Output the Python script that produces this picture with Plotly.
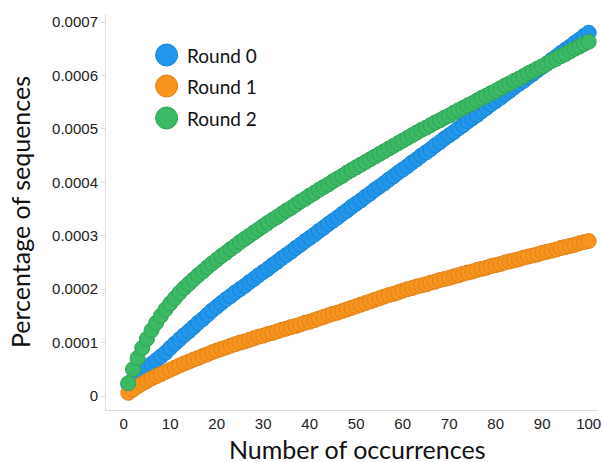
import plotly.graph_objects as go

# Number of occurrences (1..100)
occurrences = list(range(1, 101))

# Percentage of sequences per round
round0 = [
    0.000022, 0.000030, 0.000038, 0.000046, 0.000053, 0.000060, 0.000067, 0.000074, 0.000081, 0.000090,
    0.000098, 0.000106, 0.000114, 0.000121, 0.000129, 0.000137, 0.000144, 0.000152, 0.000160, 0.000167,
    0.000174, 0.000181, 0.000187, 0.000194, 0.000200, 0.000206, 0.000213, 0.000219, 0.000226, 0.000232,
    0.000238, 0.000245, 0.000251, 0.000258, 0.000264, 0.000270, 0.000277, 0.000283, 0.000290, 0.000296,
    0.000302, 0.000309, 0.000315, 0.000322, 0.000328, 0.000334, 0.000341, 0.000347, 0.000354, 0.000360,
    0.000366, 0.000373, 0.000379, 0.000386, 0.000392, 0.000398, 0.000405, 0.000411, 0.000418, 0.000424,
    0.000430, 0.000437, 0.000443, 0.000450, 0.000456, 0.000462, 0.000469, 0.000475, 0.000482, 0.000488,
    0.000494, 0.000501, 0.000507, 0.000514, 0.000520, 0.000526, 0.000533, 0.000539, 0.000546, 0.000552,
    0.000558, 0.000565, 0.000571, 0.000578, 0.000584, 0.000590, 0.000597, 0.000603, 0.000610, 0.000616,
    0.000622, 0.000629, 0.000635, 0.000642, 0.000648, 0.000654, 0.000661, 0.000667, 0.000674, 0.000680,
]

round1 = [
    0.000006, 0.000012, 0.000018, 0.000023, 0.000028, 0.000033, 0.000037, 0.000041, 0.000045, 0.000049,
    0.000053, 0.000057, 0.000061, 0.000064, 0.000068, 0.000071, 0.000075, 0.000078, 0.000082, 0.000085,
    0.000088, 0.000091, 0.000094, 0.000097, 0.000100, 0.000102, 0.000105, 0.000108, 0.000111, 0.000113,
    0.000116, 0.000118, 0.000121, 0.000124, 0.000126, 0.000129, 0.000131, 0.000134, 0.000137, 0.000139,
    0.000142, 0.000145, 0.000148, 0.000151, 0.000154, 0.000156, 0.000159, 0.000162, 0.000165, 0.000168,
    0.000171, 0.000174, 0.000177, 0.000180, 0.000183, 0.000186, 0.000189, 0.000191, 0.000194, 0.000197,
    0.000200, 0.000202, 0.000205, 0.000207, 0.000209, 0.000212, 0.000214, 0.000217, 0.000219, 0.000221,
    0.000224, 0.000226, 0.000229, 0.000231, 0.000233, 0.000236, 0.000238, 0.000240, 0.000243, 0.000245,
    0.000247, 0.000250, 0.000252, 0.000254, 0.000256, 0.000259, 0.000261, 0.000263, 0.000265, 0.000268,
    0.000270, 0.000272, 0.000274, 0.000277, 0.000279, 0.000281, 0.000283, 0.000286, 0.000288, 0.000290,
]

round2 = [
    0.000024, 0.000050, 0.000071, 0.000090, 0.000107, 0.000123, 0.000137, 0.000150, 0.000162, 0.000173,
    0.000183, 0.000193, 0.000202, 0.000210, 0.000218, 0.000226, 0.000233, 0.000241, 0.000248, 0.000255,
    0.000262, 0.000268, 0.000275, 0.000281, 0.000288, 0.000294, 0.000300, 0.000306, 0.000312, 0.000318,
    0.000324, 0.000330, 0.000335, 0.000341, 0.000347, 0.000352, 0.000358, 0.000364, 0.000369, 0.000375,
    0.000380, 0.000386, 0.000391, 0.000396, 0.000402, 0.000407, 0.000412, 0.000418, 0.000423, 0.000428,
    0.000433, 0.000438, 0.000443, 0.000448, 0.000453, 0.000458, 0.000463, 0.000468, 0.000473, 0.000478,
    0.000483, 0.000488, 0.000493, 0.000498, 0.000502, 0.000507, 0.000512, 0.000516, 0.000521, 0.000525,
    0.000530, 0.000535, 0.000539, 0.000544, 0.000548, 0.000553, 0.000558, 0.000562, 0.000567, 0.000571,
    0.000576, 0.000581, 0.000585, 0.000590, 0.000594, 0.000599, 0.000604, 0.000608, 0.000613, 0.000617,
    0.000622, 0.000627, 0.000631, 0.000636, 0.000640, 0.000645, 0.000650, 0.000654, 0.000659, 0.000663,
]

series_names = ["Round 0", "Round 1", "Round 2"]
series_values = [round0, round1, round2]
fill_colors = ["#2196eb", "#f7941d", "#3bb964"]
edge_colors = ["#1a85d4", "#e0831a", "#30a557"]

x_tick_vals = [0, 10, 20, 30, 40, 50, 60, 70, 80, 90, 100]
y_tick_vals = [0, 0.0001, 0.0002, 0.0003, 0.0004, 0.0005, 0.0006, 0.0007]
y_tick_text = ["0", "0.0001", "0.0002", "0.0003", "0.0004", "0.0005", "0.0006", "0.0007"]

fig = go.Figure()
for name, vals, fc, ec in zip(series_names, series_values, fill_colors, edge_colors):
    fig.add_trace(go.Scatter(
        x=occurrences, y=vals, mode="markers", name=name,
        marker=dict(size=15, color=fc, line=dict(color=ec, width=1)),
        showlegend=False,
    ))

# Hand-built legend with large round swatches
legend_y = [55, 86, 118]
shapes = []
annotations = []
for name, fc, ec, ly in zip(series_names, fill_colors, edge_colors, legend_y):
    yp = 1 - (ly - 14) / 396
    shapes.append(dict(
        type="circle", xref="paper", yref="paper",
        xsizemode="pixel", ysizemode="pixel",
        xanchor=(167 - 106) / 495, yanchor=yp,
        x0=-11, x1=11, y0=-11, y1=11,
        fillcolor=fc, line=dict(color=ec, width=1),
    ))
    annotations.append(dict(
        xref="paper", yref="paper",
        x=(185 - 106) / 495, y=yp,
        xanchor="left", yanchor="middle",
        text=name, showarrow=False,
        font=dict(family="Lato", size=19, color="#111111"),
    ))

# x-axis title placed just below the tick labels
annotations.append(dict(
    xref="paper", yref="paper", x=(359 - 106) / 495, y=0,
    xanchor="center", yanchor="top", yshift=-22,
    text="Number of occurrences", showarrow=False,
    font=dict(family="Lato", size=25, color="#111111"),
))

fig.update_layout(
    width=602, height=462,
    margin=dict(l=106, r=1, t=14, b=52),
    paper_bgcolor="white", plot_bgcolor="white",
    shapes=shapes, annotations=annotations,
    font=dict(family="Liberation Sans", color="#222222"),
    xaxis=dict(
        range=[-3.8, 102], tickvals=x_tick_vals,
        showgrid=False, zeroline=False,
        showline=True, linecolor="#dcdcdc", linewidth=1,
        ticks="", ticklabeloverflow="allow",
        tickfont=dict(size=15, color="#222222"),
    ),
    yaxis=dict(
        range=[-0.0000262, 0.000715], tickvals=y_tick_vals, ticktext=y_tick_text,
        showgrid=False, zeroline=False,
        showline=True, linecolor="#dcdcdc", linewidth=1,
        ticks="outside", ticklen=4, tickcolor="#dcdcdc",
        tickfont=dict(size=15, color="#222222"),
        title=dict(text="Percentage of sequences", standoff=14,
                   font=dict(family="Lato", size=25, color="#111111")),
    ),
)

fig.write_html("out.html")
